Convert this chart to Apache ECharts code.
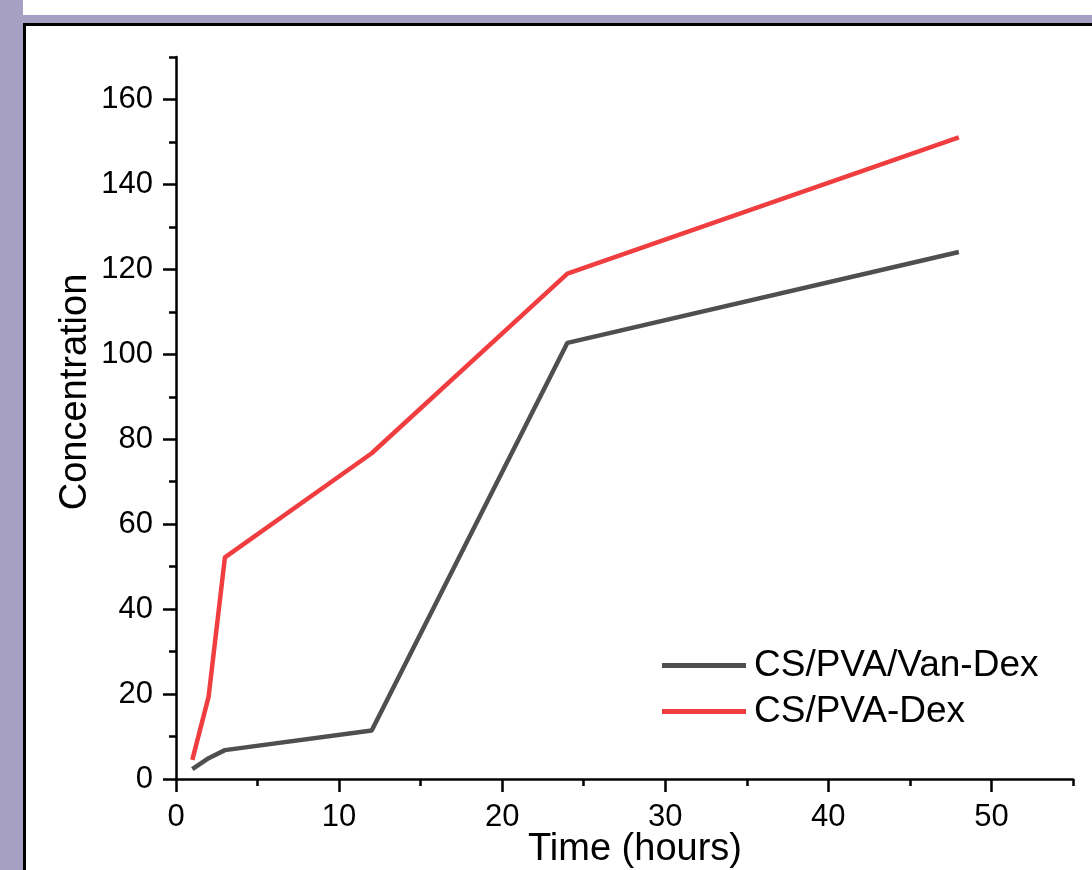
<!DOCTYPE html>
<html>
<head>
<meta charset="utf-8">
<title>Concentration vs Time</title>
<script src="https://cdn.jsdelivr.net/npm/echarts@6/dist/echarts.min.js"></script>
<style>
  html, body { margin: 0; padding: 0; background: #ffffff; }
  #page { position: relative; width: 1092px; height: 870px; overflow: hidden; background: #ffffff; }
  #bandLeft { position: absolute; left: 0; top: 0; width: 23px; height: 870px; background: #A6A0C2; }
  #bandTop { position: absolute; left: 0; top: 15px; width: 1092px; height: 8px; background: #A6A0C2; }
  #panel { position: absolute; left: 23px; top: 23px; width: 1100px; height: 900px; border: 3px solid #000; background: #ffffff; box-sizing: border-box; }
  #chart { position: absolute; left: 0; top: 0; width: 1092px; height: 870px; }
</style>
</head>
<body>
<div id="page">
  <div id="bandLeft"></div>
  <div id="bandTop"></div>
  <div id="panel"></div>
  <div id="chart"></div>
</div>
<script>
// Sampling times (hours)
const timeHours = [1, 2, 3, 12, 24, 48];
// Release profiles
const vanDex = [2.3, 4.9, 6.8, 11.4, 102.7, 124.1];
const pvaDex = [4.5, 19.4, 52.2, 76.7, 119.0, 151.1];
const seriesNames = ['CS/PVA/Van-Dex', 'CS/PVA-Dex'];
// Axis tick positions
const xMajorTicks = [0, 10, 20, 30, 40, 50];
const xMinorTicks = [5, 15, 25, 35, 45, 55];
const yMajorTicks = [0, 20, 40, 60, 80, 100, 120, 140, 160];
const yMinorTicks = [10, 30, 50, 70, 90, 110, 130, 150, 170];

const FONT = "'Liberation Sans', Arial, Helvetica, sans-serif";
const pairs = (xs, ys) => xs.map((x, i) => [x, ys[i]]);

const chart = echarts.init(document.getElementById('chart'), null, { renderer: 'canvas' });

const axisLineStyle = { color: '#000', width: 2.5 };

chart.setOption({
  backgroundColor: 'transparent',
  animation: false,
  grid: { left: 176, right: 19, top: 57, bottom: 91, containLabel: false, outerBoundsMode: 'none' },
  legend: {
    orient: 'vertical',
    left: 662,
    top: 647,
    padding: 0,
    itemWidth: 84,
    itemHeight: 20,
    itemGap: 9,
    icon: 'path://M0,0 L84,0 L84,5 L0,5 Z',
    textStyle: { fontFamily: FONT, fontSize: 37, color: '#000', padding: [0, 0, 0, 3] },
    data: seriesNames
  },
  xAxis: [
    {
      type: 'value', min: 0, max: 55, interval: 10, position: 'bottom',
      name: 'Time (hours)', nameLocation: 'middle', nameGap: 52, nameMoveOverlap: false,
      nameTextStyle: { fontFamily: FONT, fontSize: 38, color: '#000', padding: [0, 0, 0, 21] },
      axisLine: { show: true, onZero: false, lineStyle: axisLineStyle },
      axisTick: { show: true, inside: false, length: 13, customValues: xMajorTicks, lineStyle: { color: '#000', width: 2.5 } },
      axisLabel: { customValues: xMajorTicks, margin: 23, fontFamily: FONT, fontSize: 31, color: '#000' },
      splitLine: { show: false }
    },
    {
      type: 'value', min: 0, max: 55, position: 'bottom',
      axisLine: { show: false },
      axisTick: { show: true, inside: false, length: 7, customValues: xMinorTicks, lineStyle: { color: '#000', width: 2.5 } },
      axisLabel: { show: false },
      splitLine: { show: false }
    }
  ],
  yAxis: [
    {
      type: 'value', min: 0, max: 170, interval: 10, position: 'left',
      name: 'Concentration', nameLocation: 'middle', nameGap: 81, nameMoveOverlap: false,
      nameTextStyle: { fontFamily: FONT, fontSize: 38, color: '#000', padding: [0, 0, 0, 52] },
      axisLine: { show: true, onZero: false, lineStyle: axisLineStyle },
      axisTick: { show: true, inside: false, length: 13, customValues: yMajorTicks, lineStyle: { color: '#000', width: 2.5 } },
      axisLabel: { customValues: yMajorTicks, margin: 23, fontFamily: FONT, fontSize: 31, color: '#000' },
      splitLine: { show: false }
    },
    {
      type: 'value', min: 0, max: 170, position: 'left',
      axisLine: { show: false },
      axisTick: { show: true, inside: false, length: 7, customValues: yMinorTicks, lineStyle: { color: '#000', width: 2.5 } },
      axisLabel: { show: false },
      splitLine: { show: false }
    }
  ],
  series: [
    {
      name: seriesNames[0], type: 'line', xAxisIndex: 0, yAxisIndex: 0,
      data: pairs(timeHours, vanDex),
      symbol: 'none', smooth: false,
      lineStyle: { color: '#4F4F4F', width: 4.5 },
      itemStyle: { color: '#4F4F4F' }
    },
    {
      name: seriesNames[1], type: 'line', xAxisIndex: 0, yAxisIndex: 0,
      data: pairs(timeHours, pvaDex),
      symbol: 'none', smooth: false,
      lineStyle: { color: '#F03E40', width: 4.5 },
      itemStyle: { color: '#F03E40' }
    }
  ]
});
</script>
</body>
</html>
